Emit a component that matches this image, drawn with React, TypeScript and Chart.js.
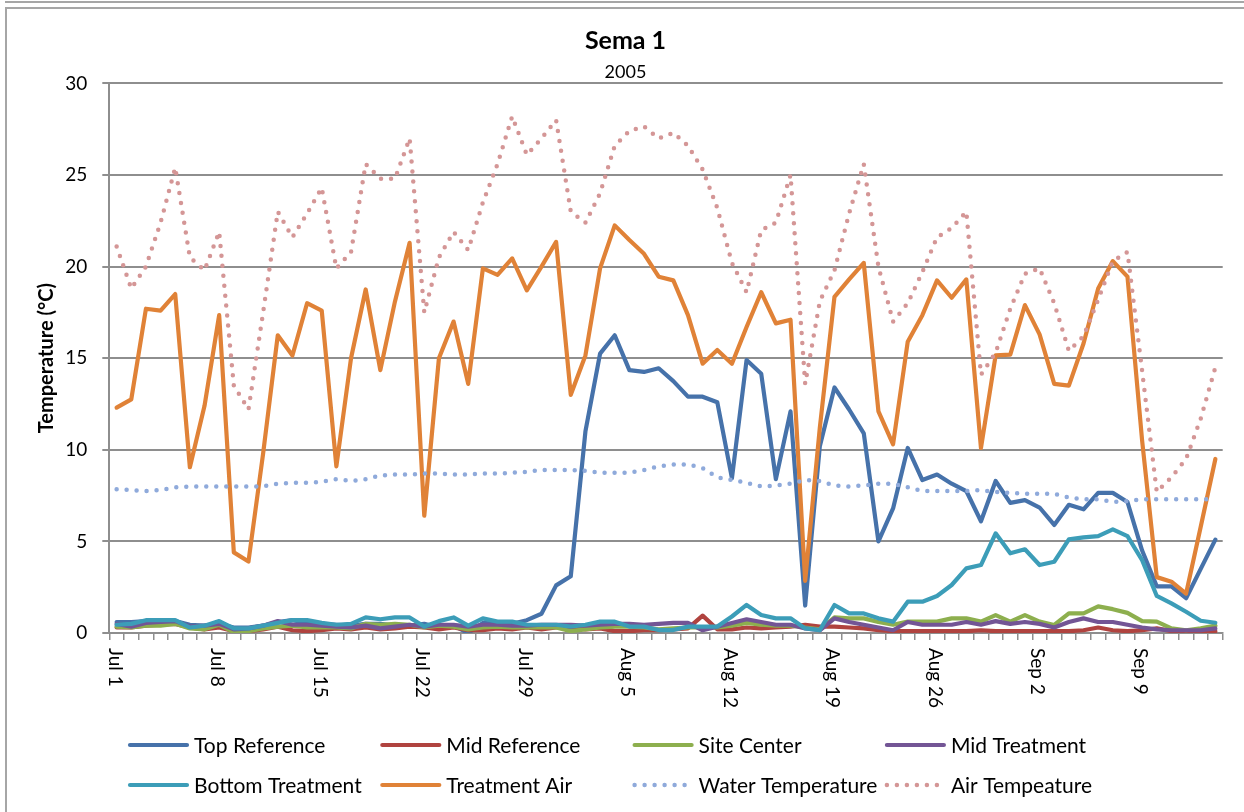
import React, { useEffect, useRef } from 'react';
import { Chart, registerables } from 'chart.js';

Chart.register(...registerables);

const CATEGORIES = [
  'Jul 1', 'Jul 2', 'Jul 3', 'Jul 4', 'Jul 5', 'Jul 6', 'Jul 7', 'Jul 8', 'Jul 9', 'Jul 10',
  'Jul 11', 'Jul 12', 'Jul 13', 'Jul 14', 'Jul 15', 'Jul 16', 'Jul 17', 'Jul 18', 'Jul 19', 'Jul 20',
  'Jul 21', 'Jul 22', 'Jul 23', 'Jul 24', 'Jul 25', 'Jul 26', 'Jul 27', 'Jul 28', 'Jul 29', 'Jul 30',
  'Jul 31', 'Aug 1', 'Aug 2', 'Aug 3', 'Aug 4', 'Aug 5', 'Aug 6', 'Aug 7', 'Aug 8', 'Aug 9',
  'Aug 10', 'Aug 11', 'Aug 12', 'Aug 13', 'Aug 14', 'Aug 15', 'Aug 16', 'Aug 17', 'Aug 18', 'Aug 19',
  'Aug 20', 'Aug 21', 'Aug 22', 'Aug 23', 'Aug 24', 'Aug 25', 'Aug 26', 'Aug 27', 'Aug 28', 'Aug 29',
  'Aug 30', 'Aug 31', 'Sep 1', 'Sep 2', 'Sep 3', 'Sep 4', 'Sep 5', 'Sep 6', 'Sep 7', 'Sep 8',
  'Sep 9', 'Sep 10', 'Sep 11', 'Sep 12', 'Sep 13', 'Sep 14',
];

const TICK_LABELS = ['Jul 1', 'Jul 8', 'Jul 15', 'Jul 22', 'Jul 29', 'Aug 5', 'Aug 12', 'Aug 19', 'Aug 26', 'Sep 2', 'Sep 9'];

const TOP_REFERENCE = [
  0.6, 0.6, 0.65, 0.65, 0.65, 0.45, 0.4, 0.5, 0.3, 0.3,
  0.4, 0.6, 0.7, 0.55, 0.5, 0.45, 0.4, 0.5, 0.5, 0.4,
  0.4, 0.5, 0.3, 0.4, 0.0, 0.55, 0.5, 0.5, 0.7, 1.05,
  2.6, 3.1, 11.0, 15.25, 16.25, 14.35, 14.25, 14.45, 13.75, 12.9,
  12.9, 12.6, 8.45, 14.9, 14.15, 8.4, 12.1, 1.5, 10.2, 13.4,
  12.2, 10.9, 5.0, 6.8, 10.1, 8.35, 8.65, 8.15, 7.75, 6.1,
  8.3, 7.1, 7.25, 6.85, 5.9, 7.0, 6.75, 7.65, 7.65, 7.15,
  4.5, 2.55, 2.55, 1.9, 3.5, 5.1,
];

const MID_REFERENCE = [
  0.3, 0.3, 0.4, 0.45, 0.5, 0.3, 0.2, 0.3, 0.1, 0.1,
  0.2, 0.35, 0.15, 0.1, 0.15, 0.25, 0.2, 0.3, 0.2, 0.25,
  0.35, 0.3, 0.2, 0.3, 0.15, 0.15, 0.25, 0.2, 0.3, 0.2,
  0.3, 0.3, 0.2, 0.25, 0.1, 0.1, 0.15, 0.15, 0.2, 0.25,
  0.95, 0.2, 0.2, 0.3, 0.25, 0.3, 0.35, 0.45, 0.35, 0.35,
  0.3, 0.25, 0.15, 0.1, 0.1, 0.1, 0.1, 0.1, 0.1, 0.15,
  0.1, 0.1, 0.1, 0.1, 0.1, 0.1, 0.15, 0.3, 0.15, 0.1,
  0.15, 0.25, 0.1, 0.1, 0.1, 0.1,
];

const SITE_CENTER = [
  0.35, 0.3, 0.4, 0.4, 0.5, 0.25, 0.2, 0.45, 0.05, 0.1,
  0.25, 0.35, 0.4, 0.3, 0.3, 0.3, 0.25, 0.5, 0.45, 0.5,
  0.45, 0.3, 0.4, 0.35, 0.2, 0.3, 0.35, 0.3, 0.3, 0.3,
  0.3, 0.1, 0.2, 0.3, 0.35, 0.35, 0.3, 0.2, 0.25, 0.3,
  0.3, 0.3, 0.4, 0.55, 0.45, 0.4, 0.4, 0.3, 0.2, 0.85,
  0.8, 0.8, 0.6, 0.45, 0.62, 0.62, 0.62, 0.8, 0.8, 0.62,
  0.98, 0.62, 0.98, 0.62, 0.44, 1.07, 1.07, 1.45, 1.3, 1.1,
  0.65, 0.62, 0.25, 0.15, 0.25, 0.4,
];

const MID_TREATMENT = [
  0.5, 0.35, 0.55, 0.6, 0.65, 0.35, 0.4, 0.5, 0.2, 0.25,
  0.4, 0.65, 0.45, 0.45, 0.4, 0.35, 0.3, 0.4, 0.25, 0.35,
  0.45, 0.35, 0.45, 0.45, 0.35, 0.45, 0.45, 0.4, 0.4, 0.45,
  0.45, 0.45, 0.4, 0.45, 0.5, 0.5, 0.45, 0.5, 0.55, 0.55,
  0.15, 0.35, 0.55, 0.75, 0.6, 0.45, 0.45, 0.25, 0.15, 0.8,
  0.6, 0.45, 0.3, 0.15, 0.6, 0.45, 0.45, 0.45, 0.6, 0.45,
  0.65, 0.5, 0.6, 0.5, 0.3, 0.6, 0.8, 0.6, 0.6, 0.45,
  0.3, 0.2, 0.15, 0.15, 0.15, 0.25,
];

const BOTTOM_TREATMENT = [
  0.45, 0.5, 0.7, 0.7, 0.7, 0.3, 0.4, 0.65, 0.25, 0.25,
  0.4, 0.55, 0.7, 0.7, 0.55, 0.45, 0.5, 0.85, 0.75, 0.85,
  0.85, 0.35, 0.65, 0.85, 0.4, 0.8, 0.62, 0.62, 0.45, 0.45,
  0.45, 0.35, 0.45, 0.62, 0.62, 0.35, 0.35, 0.16, 0.16, 0.35,
  0.35, 0.35, 0.9, 1.53, 0.98, 0.8, 0.8, 0.25, 0.16, 1.53,
  1.07, 1.07, 0.8, 0.62, 1.71, 1.71, 2.02, 2.62, 3.53, 3.71,
  5.44, 4.35, 4.57, 3.71, 3.89, 5.11, 5.22, 5.29, 5.66, 5.29,
  3.98, 2.02, 1.62, 1.16, 0.67, 0.56,
];

const TREATMENT_AIR = [
  12.3, 12.75, 17.7, 17.6, 18.5, 9.05, 12.4, 17.35, 4.4, 3.9,
  9.8, 16.25, 15.15, 18.0, 17.6, 9.1, 15.0, 18.75, 14.35, 18.1,
  21.3, 6.4, 15.0, 17.0, 13.6, 19.9, 19.55, 20.45, 18.7, 20.0,
  21.35, 13.0, 15.15, 19.9, 22.25, 21.45, 20.7, 19.45, 19.25, 17.35,
  14.7, 15.45, 14.7, 16.7, 18.6, 16.9, 17.1, 2.85, 11.2, 18.35,
  19.3, 20.2, 12.1, 10.3, 15.9, 17.35, 19.25, 18.3, 19.3, 10.1,
  15.15, 15.2, 17.9, 16.3, 13.6, 13.5, 15.8, 18.8, 20.3, 19.45,
  10.5, 3.05, 2.8, 2.15, 5.8, 9.5,
];

const WATER_TEMPERATURE = [
  7.85, 7.8, 7.75, 7.8, 7.95, 8.0, 8.0, 8.0, 8.0, 8.0,
  8.0, 8.15, 8.2, 8.2, 8.25, 8.4, 8.3, 8.4, 8.6, 8.65,
  8.65, 8.7, 8.7, 8.65, 8.65, 8.7, 8.7, 8.75, 8.8, 8.9,
  8.9, 8.9, 8.85, 8.75, 8.75, 8.75, 8.9, 9.1, 9.2, 9.2,
  9.0, 8.5, 8.35, 8.2, 8.0, 8.05, 8.15, 8.35, 8.3, 8.05,
  8.0, 8.05, 8.15, 8.15, 7.95, 7.75, 7.75, 7.75, 7.75, 7.8,
  7.7, 7.65, 7.6, 7.6, 7.6, 7.4, 7.3, 7.3, 7.15, 7.2,
  7.3, 7.3, 7.3, 7.3, 7.3, 7.3,
];

const AIR_TEMPERATURE = [
  21.1, 18.8, 20.0, 22.4, 25.4, 20.5, 19.8, 21.9, 13.5, 12.2,
  17.5, 23.0, 21.6, 22.9, 24.3, 19.9, 20.8, 25.6, 24.8, 24.8,
  27.0, 17.5, 20.5, 21.9, 20.9, 23.5, 25.6, 28.2, 26.1, 27.0,
  28.0, 23.0, 22.4, 24.0, 26.6, 27.4, 27.65, 27.0, 27.3, 26.6,
  25.3, 23.2, 20.2, 18.6, 22.0, 22.4, 25.0, 13.6, 18.1, 19.8,
  22.9, 25.6, 20.0, 17.0, 18.0, 19.7, 21.6, 22.1, 23.0, 14.1,
  15.3, 17.7, 19.6, 19.9, 18.0, 15.4, 16.2, 18.2, 20.3, 20.8,
  14.3, 7.7, 8.5, 9.5, 11.7, 14.5,
];

const SERIES_NAMES = [
  'Top Reference', 'Mid Reference', 'Site Center', 'Mid Treatment',
  'Bottom Treatment', 'Treatment Air', 'Water Temperature', 'Air Tempeature',
];
const SERIES_VALUES = [
  TOP_REFERENCE, MID_REFERENCE, SITE_CENTER, MID_TREATMENT,
  BOTTOM_TREATMENT, TREATMENT_AIR, WATER_TEMPERATURE, AIR_TEMPERATURE,
];
const SERIES_COLORS = [
  '#4672AA', '#B0433F', '#8DAF4E', '#735595',
  '#3C9DB8', '#E08237', '#8FAADB', '#D49696',
];
const SERIES_DOTTED = [false, false, false, false, false, false, true, true];

const FONT = 'Lato';
const GRID = '#8e8e8e';

const xLabelsPlugin = {
  id: 'rotatedXLabels',
  afterDraw(chart: any) {
    const { ctx } = chart;
    const xs = chart.scales.x;
    ctx.save();
    ctx.font = `19px ${FONT}`;
    ctx.fillStyle = '#000';
    ctx.textAlign = 'left';
    ctx.textBaseline = 'middle';
    CATEGORIES.forEach((c, i) => {
      if (!TICK_LABELS.includes(c)) return;
      const px = xs.getPixelForValue(i) - 2;
      ctx.save();
      ctx.translate(px, xs.top + 15);
      ctx.rotate(Math.PI / 2);
      ctx.fillText(c, 0, 0);
      ctx.restore();
    });
    ctx.restore();
  },
};

const gridLegendPlugin = {
  id: 'gridLegend',
  afterDraw(chart: any) {
    const { ctx } = chart;
    chart.data.datasets.forEach((d: any, i: number) => {
      const col = i % 4;
      const row = Math.floor(i / 4);
      const x0 = 123 + col * 252.3;
      const y = 736 + row * 40;
      ctx.save();
      ctx.strokeStyle = d.borderColor;
      ctx.lineWidth = d.borderWidth;
      ctx.lineCap = 'round';
      ctx.setLineDash(d.borderDash || []);
      ctx.beginPath();
      ctx.moveTo(x0, y);
      ctx.lineTo(x0 + 57, y);
      ctx.stroke();
      ctx.setLineDash([]);
      ctx.fillStyle = '#000';
      ctx.font = `21px ${FONT}`;
      ctx.textAlign = 'left';
      ctx.textBaseline = 'middle';
      ctx.fillText(d.label, x0 + 64, y + 1);
      ctx.restore();
    });
  },
};

export default function App() {
  const ref = useRef<HTMLCanvasElement | null>(null);

  useEffect(() => {
    if (!ref.current) return;
    Chart.defaults.font.family = FONT;
    Chart.defaults.color = '#000';
    const datasets = SERIES_NAMES.map((name, i) => ({
      label: name,
      data: SERIES_VALUES[i],
      borderColor: SERIES_COLORS[i],
      backgroundColor: SERIES_COLORS[i],
      borderWidth: SERIES_DOTTED[i] ? 4.5 : 4.2,
      borderDash: SERIES_DOTTED[i] ? [0, 10] : [],
      borderCapStyle: 'round',
      borderJoinStyle: 'round',
      pointRadius: 0,
      pointHoverRadius: 0,
      tension: 0,
      fill: false,
      order: SERIES_NAMES.length - 1 - i,
    }));
    const chart = new Chart(ref.current, {
      type: 'line',
      data: { labels: CATEGORIES, datasets },
      plugins: [xLabelsPlugin, gridLegendPlugin],
      options: {
        responsive: false,
        animation: false,
        devicePixelRatio: 1,
        layout: { padding: 0 },
        plugins: {
          legend: { display: false },
          tooltip: { enabled: false },
          title: {
            display: true,
            text: 'Sema 1',
            color: '#000',
            font: { size: 25, weight: 'bold', family: FONT },
            padding: { top: 17, bottom: 0 },
          },
          subtitle: {
            display: true,
            text: '2005',
            color: '#000',
            font: { size: 18, family: FONT },
            padding: { top: 5.2, bottom: 0.6 },
          },
        },
        scales: {
          x: {
            type: 'category',
            offset: true,
            grid: {
              display: true,
              drawOnChartArea: false,
              drawTicks: true,
              tickLength: 7,
              offset: true,
              color: GRID,
              lineWidth: 1.5,
            },
            border: { display: true, color: GRID, width: 1.5 },
            ticks: { display: false, autoSkip: false },
            afterFit: (s: any) => { s.height = 179; },
          },
          y: {
            min: 0,
            max: 30,
            ticks: { stepSize: 5, color: '#000', padding: 15, font: { size: 19, family: FONT } },
            grid: { color: GRID, lineWidth: 2, tickLength: 7 },
            border: { display: true, color: GRID, width: 2 },
            title: {
              display: true,
              text: 'Temperature (°C)',
              color: '#000',
              font: { size: 20, weight: 'bold', family: FONT },
              padding: { top: 28, bottom: 0 },
            },
            afterFit: (s: any) => { s.width = 102.3; },
          },
          yr: {
            position: 'right',
            display: true,
            grid: { display: false },
            border: { display: false },
            ticks: { display: false },
            afterFit: (s: any) => { s.width = 21.3; },
          },
        },
      } as any,
    });
    return () => chart.destroy();
  }, []);

  return (
    <div style={{ position: 'absolute', left: 0, top: 0, width: 1244, height: 812, overflow: 'hidden', background: '#fff' }}>
      <div style={{ position: 'absolute', left: 5, top: 1, width: 1300, height: 0, borderTop: '2px solid #a6a6a6' }} />
      <div style={{ position: 'absolute', left: 5, top: 7, width: 1300, height: 900, border: '2px solid #a6a6a6', boxSizing: 'content-box' }}>
        <canvas ref={ref} width={1237} height={803} style={{ display: 'block' }} />
      </div>
    </div>
  );
}
